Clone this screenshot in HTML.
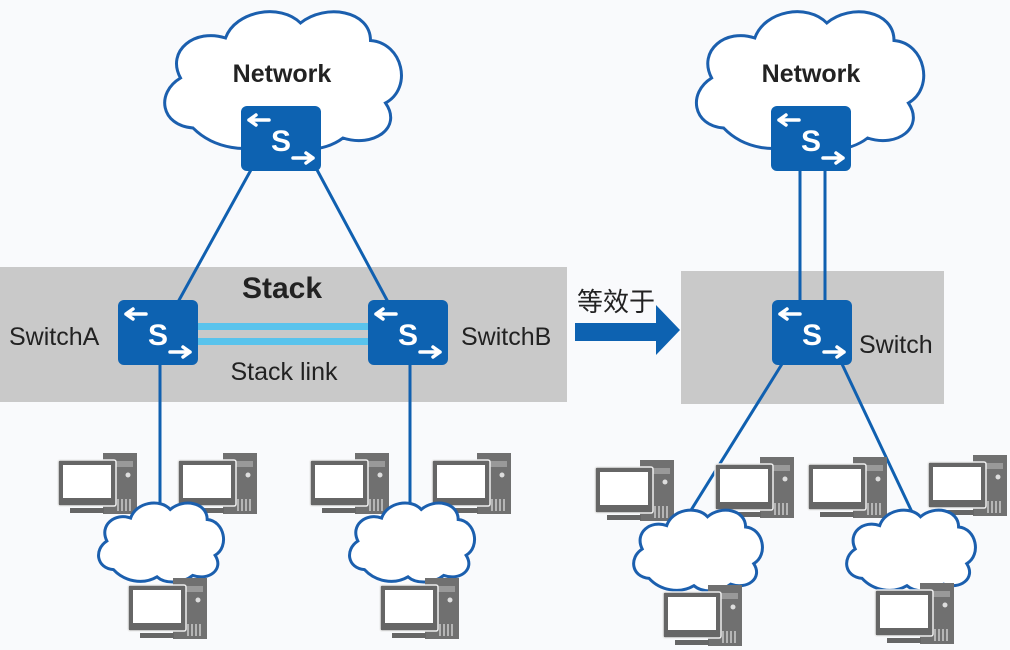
<!DOCTYPE html>
<html><head><meta charset="utf-8"><style>
html,body{margin:0;padding:0;background:#f9fafc}
svg{display:block}
text{font-family:"Liberation Sans","Noto Sans CJK SC",sans-serif}
</style></head><body>
<svg width="1010" height="650" viewBox="0 0 1010 650" xmlns="http://www.w3.org/2000/svg">
<defs>
<symbol id="cloud" viewBox="0 0 100 60" preserveAspectRatio="none">
<path d="M14,50 C1,49 -1,36 9,30 C3,19 15,10 27,14 C31,3 49,0 57,8 C67,0 85,3 85,15 C98,16 102,34 91,40 C98,50 86,58 74,54 C66,60 53,60 47,55 C36,61 22,58 14,50 Z" fill="#fff" stroke="#1b5fae" stroke-width="3" vector-effect="non-scaling-stroke"/>
</symbol>
<g id="sw">
<rect x="0" y="0" width="80" height="65" rx="6" fill="#0d62b1"/>
<text x="40" y="45" font-size="30" font-weight="bold" fill="#fff" text-anchor="middle">S</text>
<path d="M8,14 H28 M8,14 l7,-5 M8,14 l7,5" stroke="#fff" stroke-width="3.5" fill="none" stroke-linecap="round"/>
<path d="M52,52 H72 M72,52 l-7,-5 M72,52 l-7,5" stroke="#fff" stroke-width="3.5" fill="none" stroke-linecap="round"/>
</g>
<g id="pc">
<rect x="45" y="0" width="34" height="61" fill="#707070"/>
<rect x="58" y="8" width="17" height="6" fill="#999"/>
<circle cx="70" cy="22" r="2.5" fill="#ddd"/>
<path d="M60,46v12 M64,46v12 M68,46v12 M72,46v12" stroke="#ccc" stroke-width="1.5"/>
<rect x="0" y="7" width="58" height="46" rx="2" fill="#666" stroke="#eee" stroke-width="1.5"/>
<rect x="5" y="12" width="48" height="33" fill="#fff"/>
<rect x="12" y="55" width="34" height="5" fill="#666"/>
</g>
</defs>

<rect x="0" y="267" width="567" height="135" fill="#c9c9c9"/>
<rect x="681" y="271" width="263" height="133" fill="#c9c9c9"/>

<g stroke="#1060b0" stroke-width="3" fill="none">
<line x1="252" y1="168" x2="178" y2="302"/>
<line x1="316" y1="168" x2="388" y2="302"/>
<line x1="160" y1="364" x2="160" y2="505"/>
<line x1="410" y1="364" x2="410" y2="505"/>
<line x1="800" y1="168" x2="800" y2="302"/>
<line x1="825" y1="168" x2="825" y2="302"/>
<line x1="782" y1="364" x2="688" y2="515"/>
<line x1="842" y1="364" x2="912" y2="512"/>
</g>
<rect x="198" y="323" width="170" height="7" fill="#59c3ec"/>
<rect x="198" y="338" width="170" height="7" fill="#59c3ec"/>

<use href="#cloud" x="158" y="3" width="250" height="150"/>
<use href="#cloud" x="690" y="3" width="240" height="150"/>
<text x="282" y="82" font-size="25" font-weight="bold" fill="#222" text-anchor="middle">Network</text>
<text x="811" y="82" font-size="25" font-weight="bold" fill="#222" text-anchor="middle">Network</text>

<use href="#sw" x="241" y="106"/>
<use href="#sw" x="771" y="106"/>
<use href="#sw" x="118" y="300"/>
<use href="#sw" x="368" y="300"/>
<use href="#sw" x="772" y="300"/>

<text x="282" y="298" font-size="30" font-weight="bold" fill="#222" text-anchor="middle">Stack</text>
<text x="9" y="345" font-size="25" fill="#222">SwitchA</text>
<text x="461" y="345" font-size="25" fill="#222">SwitchB</text>
<text x="284" y="380" font-size="25" fill="#222" text-anchor="middle">Stack link</text>
<text x="859" y="353" font-size="25" fill="#222">Switch</text>

<path d="M575,323 H656 V305 L680,330 L656,355 V341 H575 Z" fill="#0d62b1"/>
<text x="577" y="311" font-size="26" fill="#222">等效于</text>

<use href="#pc" x="58" y="453"/>
<use href="#pc" x="178" y="453"/>
<use href="#pc" x="310" y="453"/>
<use href="#pc" x="432" y="453"/>
<use href="#pc" x="595" y="460"/>
<use href="#pc" x="715" y="457"/>
<use href="#pc" x="808" y="457"/>
<use href="#pc" x="928" y="455"/>

<use href="#cloud" x="95" y="498" width="132" height="86"/>
<use href="#cloud" x="346" y="498" width="132" height="86"/>
<use href="#cloud" x="630" y="505" width="136" height="88"/>
<use href="#cloud" x="843" y="505" width="136" height="88"/>

<use href="#pc" x="128" y="578"/>
<use href="#pc" x="380" y="578"/>
<use href="#pc" x="663" y="585"/>
<use href="#pc" x="875" y="583"/>
</svg>
</body></html>
